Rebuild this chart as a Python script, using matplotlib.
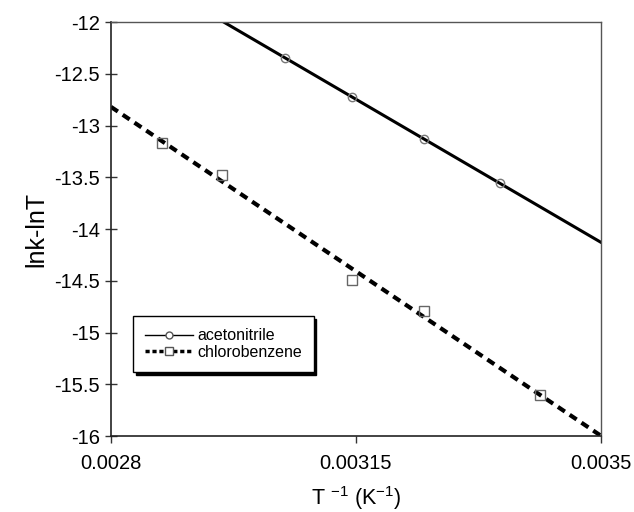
import matplotlib.pyplot as plt
from matplotlib.lines import Line2D
import numpy as np

plt.rcParams['font.family'] = ['Liberation Sans', 'DejaVu Sans']
plt.rcParams['axes.unicode_minus'] = False
plt.rcParams['mathtext.default'] = 'regular'

# temperatures (K) and lnk-lnT values
acn_T = [328, 318, 308, 298]
acn_y = [-12.35, -12.72, -13.13, -13.56]
cb_T = [348, 338, 318, 308, 293]
cb_y = [-13.17, -13.48, -14.49, -14.79, -15.60]

acn_x = 1.0 / np.array(acn_T)
cb_x = 1.0 / np.array(cb_T)

fig = plt.figure(figsize=(6.34, 5.12), dpi=100)
ax = fig.add_axes([0.175, 0.1484, 0.773, 0.8086])

xx = np.array([0.0028, 0.0035])
p1 = np.polyfit(acn_x, acn_y, 1)
p2 = np.polyfit(cb_x, cb_y, 1)
ax.plot(xx, np.polyval(p1, xx), color='black', lw=2.2)
ax.plot(xx, np.polyval(p2, xx), color='black', lw=3, linestyle=(0, (2, 1.4)))

ax.plot(acn_x, acn_y, 'o', ms=6, mfc='none', mec='#777777', mew=1)
ax.plot(cb_x, cb_y, 's', ms=7, mfc='none', mec='#666666', mew=1)

ax.set_xlim(0.0028, 0.0035)
ax.set_ylim(-16, -12)
ax.set_xticks([0.0028, 0.00315, 0.0035])
ax.set_xticklabels(['0.0028', '0.00315', '0.0035'])
ax.set_yticks(np.arange(-16, -11.9, 0.5))
ax.set_yticklabels(['-16', '-15.5', '-15', '-14.5', '-14', '-13.5', '-13', '-12.5', '-12'])
ax.tick_params(labelsize=14.5, length=5, width=1, color='#333333')
ax.tick_params(axis='x', pad=8)
ax.tick_params(axis='y', direction='inout', length=8, pad=4)
for side in ['left', 'bottom']:
    ax.spines[side].set_color('#222222')
    ax.spines[side].set_linewidth(1.2)
for side in ['top', 'right']:
    ax.spines[side].set_color('#555555')
    ax.spines[side].set_linewidth(1)

ax.set_xlabel('T $^{-1}$ (K$^{-1}$)', fontsize=15.5, labelpad=8)
ax.set_ylabel('lnk-lnT', fontsize=18, labelpad=4)

handles = [
    Line2D([], [], color='black', lw=1, marker='o', ms=5, mfc='white', mec='#555555'),
    Line2D([], [], color='black', lw=2.5, linestyle=(0, (1.2, 0.8)), marker='s', ms=6,
           mfc='white', mec='#555555'),
]
leg = ax.legend(handles, ['acetonitrile', 'chlorobenzene'], loc='lower left',
                bbox_to_anchor=(0.045, 0.155), fontsize=11.5, frameon=True, fancybox=False,
                edgecolor='black', framealpha=1, shadow={'color': 'black', 'alpha': 1},
                handlelength=3.0, handletextpad=0.25, borderpad=0.75, labelspacing=0.1,
                borderaxespad=0)
leg.get_frame().set_linewidth(1)

fig.savefig('out.png', dpi=100)
